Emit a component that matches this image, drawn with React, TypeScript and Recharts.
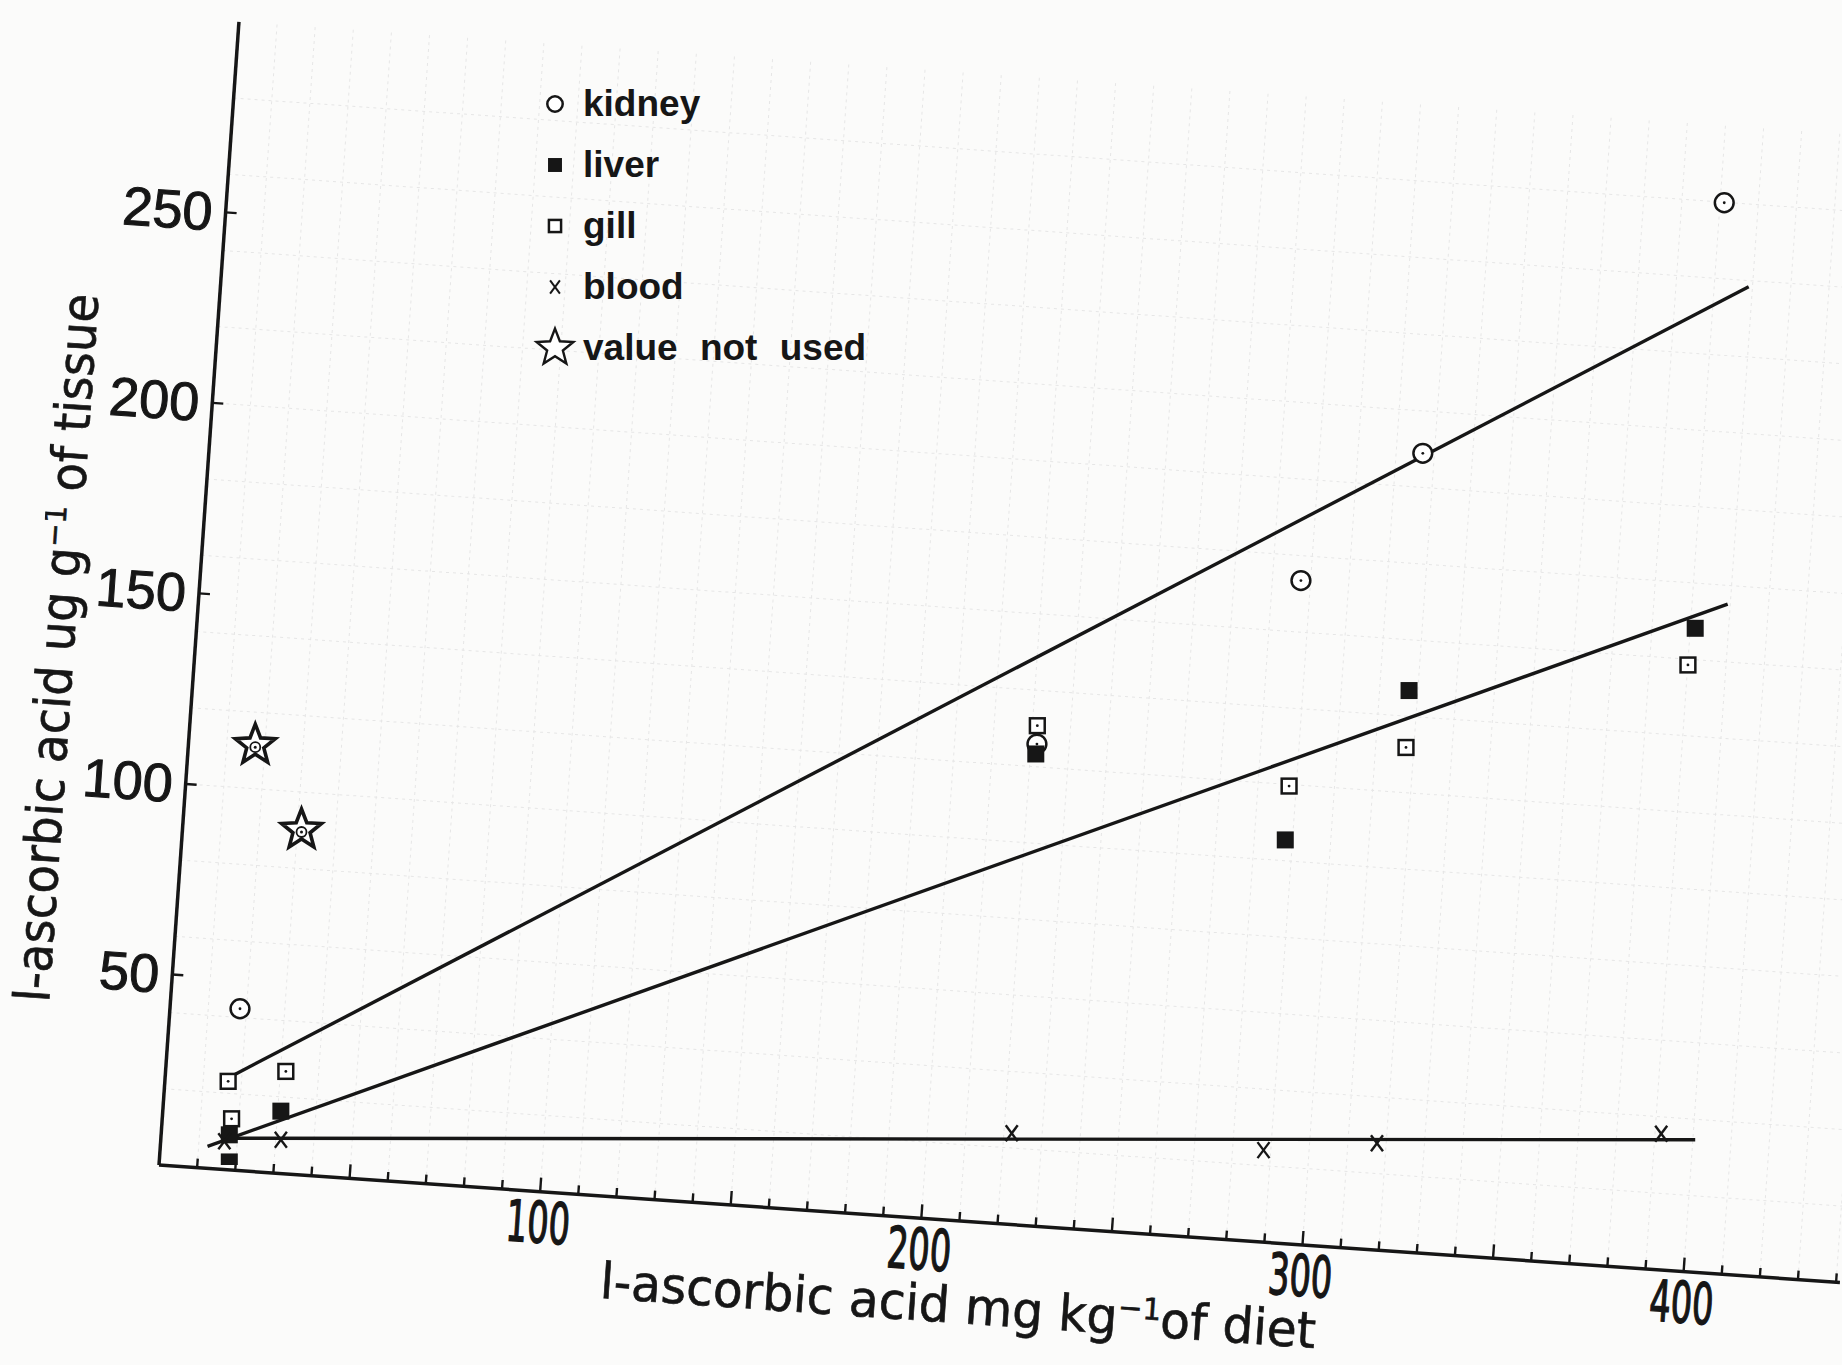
import { CartesianGrid, Label, Legend, Scatter, ScatterChart, XAxis, YAxis } from "recharts";

// values (diet mg/kg vs tissue ug/g)
const kidney = [
  { diet: 21.2, tissue: 40.9 },
  { diet: 229.8, tissue: 110.2 },
  { diet: 298.9, tissue: 153.0 },
  { diet: 330.8, tissue: 186.3 },
  { diet: 409.7, tissue: 251.9 },
];
const liver = [
  { diet: 18.4, tissue: 0.8 },
  { diet: 18.4, tissue: 7.9 },
  { diet: 31.9, tissue: 14.1 },
  { diet: 229.5, tissue: 107.6 },
  { diet: 294.8, tissue: 85.1 },
  { diet: 327.2, tissue: 124.2 },
  { diet: 402.1, tissue: 140.5 },
];
const gill = [
  { diet: 18.1, tissue: 21.9 },
  { diet: 19.0, tissue: 12.1 },
  { diet: 33.2, tissue: 24.5 },
  { diet: 229.9, tissue: 115.0 },
  { diet: 295.8, tissue: 99.2 },
  { diet: 326.4, tissue: 109.3 },
  { diet: 400.2, tissue: 130.9 },
];
const blood = [
  { diet: 17.1, tissue: 6.2 },
  { diet: 31.9, tissue: 6.6 },
  { diet: 223.2, tissue: 8.3 },
  { diet: 289.1, tissue: 3.9 },
  { diet: 318.8, tissue: 5.7 },
  { diet: 393.2, tissue: 8.2 },
];
const notUsed = [
  { diet: 25.2, tissue: 109.9 },
  { diet: 37.3, tissue: 87.7 },
];
const kidneyFit = [
  { diet: 18.1, tissue: 22.8 },
  { diet: 416.1, tissue: 229.9 },
];
const liverFit = [
  { diet: 12.7, tissue: 4.9 },
  { diet: 410.6, tissue: 146.8 },
];
const bloodFit = [
  { diet: 17.1, tissue: 7.0 },
  { diet: 402.1, tissue: 6.6 },
];

const xTicks = [
  10, 20, 30, 40, 50, 60, 70, 80, 90, 100, 110, 120, 130, 140, 150, 160, 170, 180, 190, 200, 210, 220,
  230, 240, 250, 260, 270, 280, 290, 300, 310, 320, 330, 340, 350, 360, 370, 380, 390, 400, 410, 420,
  430, 440,
];
const xTickLabels = [100, 200, 300, 400];
const yTicks = [50, 100, 150, 200, 250];
const gridY = [20, 40, 60, 80, 100, 120, 140, 160, 180, 200, 220, 240, 260, 280];

const legendItems = [
  { label: "kidney", kind: "circle" },
  { label: "liver", kind: "filled" },
  { label: "gill", kind: "square" },
  { label: "blood", kind: "cross" },
  { label: "value not used", kind: "star" },
];

const INK = "#161616";
const SANS = "'Liberation Sans', Arial, sans-serif";
const NARROW = "'Liberation Sans Narrow', 'DejaVu Sans Condensed', 'Liberation Sans', sans-serif";

function starPath(cx: number, cy: number, R: number, r: number) {
  let d = "";
  for (let i = 0; i < 10; i++) {
    const a = -Math.PI / 2 + (i * Math.PI) / 5;
    const rad = i % 2 === 0 ? R : r;
    d += (i === 0 ? "M" : "L") + (cx + rad * Math.cos(a)).toFixed(2) + "," + (cy + rad * Math.sin(a)).toFixed(2);
  }
  return d + "Z";
}

function marker(kind: string, cx: number, cy: number, s = 1) {
  const dot = s === 1;
  switch (kind) {
    case "circle":
      return (
        <g>
          <circle cx={cx} cy={cy} r={9.4 * s} fill="#fff" stroke={INK} strokeWidth={2.5} />
          {dot && <circle cx={cx} cy={cy} r={1.4} fill={INK} />}
        </g>
      );
    case "filled":
      return <rect x={cx - 8.5 * s} y={cy - 8.5 * s} width={17 * s} height={17 * s} fill={INK} />;
    case "square":
      return (
        <g>
          <rect x={cx - 7.4 * s} y={cy - 7.4 * s} width={14.8 * s} height={14.8 * s} fill="#fff" stroke={INK} strokeWidth={2.5} />
          {dot && <circle cx={cx} cy={cy} r={1.4} fill={INK} />}
        </g>
      );
    case "cross":
      return (
        <g stroke={INK} strokeWidth={2.4 * s} fill="none">
          <line x1={cx - 6 * s} y1={cy - 8 * s} x2={cx + 6 * s} y2={cy + 8 * s} />
          <line x1={cx + 6 * s} y1={cy - 8 * s} x2={cx - 6 * s} y2={cy + 8 * s} />
        </g>
      );
    case "star":
      return (
        <g>
          <path d={starPath(cx, cy, 21 * s, 9 * s)} fill="#fff" stroke={INK} strokeWidth={dot ? 3.6 : 2.4} strokeLinejoin="miter" />
          {dot && <circle cx={cx} cy={cy + 2} r={5} fill="none" stroke={INK} strokeWidth={1.8} />}
          {dot && <circle cx={cx} cy={cy + 2} r={1.5} fill={INK} />}
        </g>
      );
    default:
      return <g />;
  }
}

function XTick(props: any) {
  const { x, y, payload } = props;
  const v = payload.value as number;
  const len = v % 50 === 0 ? 14 : 9;
  return (
    <g>
      <line x1={x} x2={x} y1={y} y2={y - len} stroke={INK} strokeWidth={2.4} />
      {xTickLabels.includes(v) && (
        <text
          x={x}
          y={y + 31}
          textAnchor="middle"
          dominantBaseline="central"
          fontSize={57}
          fontFamily={NARROW}
          textLength={64}
          lengthAdjust="spacingAndGlyphs"
          fill={INK}
          stroke={INK}
          strokeWidth={1.4}
        >
          {v}
        </text>
      )}
    </g>
  );
}

function YTick(props: any) {
  const { x, y, payload } = props;
  return (
    <g>
      <line x1={x} x2={x + 11} y1={y} y2={y} stroke={INK} strokeWidth={2.4} />
      <text
        x={x - 13}
        y={y}
        textAnchor="end"
        dominantBaseline="central"
        fontSize={54}
        fontFamily={SANS}
        fill={INK}
        stroke={INK}
        strokeWidth={1}
      >
        {payload.value}
      </text>
    </g>
  );
}

function YTitle(props: any) {
  const vb = props.viewBox || { x: 79, y: 19, width: 80, height: 1146 };
  const x0 = vb.x + vb.width - 121;
  const yc = vb.y + vb.height - 509;
  return (
    <text
      transform={`rotate(-90, ${x0}, ${yc})`}
      x={x0}
      y={yc}
      textAnchor="middle"
      fontSize={50}
      fontFamily={NARROW}
      textLength={710}
      lengthAdjust="spacingAndGlyphs"
      fill={INK}
      stroke={INK}
      strokeWidth={0.6}
    >
      l-ascorbic acid  ug g<tspan dy={-17} fontSize={30}>−1</tspan><tspan dy={17}> of tissue</tspan>
    </text>
  );
}

function XTitle(props: any) {
  const vb = props.viewBox || { x: 159, y: 1165, width: 1684, height: 60 };
  return (
    <text
      x={vb.x + 807}
      y={vb.y + 102}
      textAnchor="middle"
      fontSize={50}
      fontFamily={NARROW}
      textLength={717}
      lengthAdjust="spacingAndGlyphs"
      fill={INK}
      stroke={INK}
      strokeWidth={0.6}
    >
      l-ascorbic acid  mg kg<tspan dy={-17} fontSize={30}>−1</tspan><tspan dy={17}>of diet</tspan>
    </text>
  );
}

function LegendBox() {
  return (
    <div style={{ fontFamily: SANS, fontWeight: 700, fontSize: 37, color: INK }}>
      {legendItems.map((it) => (
        <div key={it.label} style={{ display: "flex", alignItems: "center", height: 61 }}>
          <svg width={44} height={48} style={{ flex: "none" }}>
            {marker(it.kind, 22, 24, it.kind === "star" ? 0.92 : 0.82)}
          </svg>
          <span style={{ marginLeft: 6, wordSpacing: 12, whiteSpace: "nowrap" }}>{it.label}</span>
        </div>
      ))}
    </div>
  );
}

const noDot = () => <g />;

export default function App() {
  return (
    <div
      style={{
        position: "absolute",
        left: 0,
        top: 0,
        width: 1842,
        height: 1365,
        overflow: "hidden",
        background: "#fbfbfa",
      }}
    >
      {/* the axes were pasted on a few degrees askew of the plotted data */}
      <div style={{ position: "absolute", left: 0, top: 0, transform: "rotate(4deg)", transformOrigin: "159px 1165px" }}>
        <ScatterChart width={1900} height={1365} margin={{ top: 19, right: 56, bottom: 140, left: 79 }}>
          <CartesianGrid stroke="#e6e6e6" strokeDasharray="3 4" verticalValues={xTicks} horizontalValues={gridY} />
          <XAxis
            type="number"
            dataKey="diet"
            domain={[0, 441]}
            allowDataOverflow
            ticks={xTicks}
            interval={0}
            tickSize={0}
            tickMargin={0}
            tickLine={false}
            tick={XTick}
            height={60}
            axisLine={{ stroke: INK, strokeWidth: 3.5 }}
          >
            <Label content={XTitle} />
          </XAxis>
          <YAxis
            type="number"
            dataKey="tissue"
            domain={[0, 300]}
            allowDataOverflow
            ticks={yTicks}
            interval={0}
            tickSize={0}
            tickMargin={0}
            tickLine={false}
            tick={YTick}
            width={80}
            axisLine={{ stroke: INK, strokeWidth: 3.5 }}
          >
            <Label content={YTitle} />
          </YAxis>
          <Scatter data={[]} isAnimationActive={false} />
        </ScatterChart>
      </div>

      <div style={{ position: "absolute", left: 0, top: 0 }}>
        <ScatterChart width={1842} height={1365} margin={{ top: 19, right: 2, bottom: 200, left: 159 }}>
          <XAxis type="number" dataKey="diet" domain={[0, 440]} allowDataOverflow hide />
          <YAxis type="number" dataKey="tissue" domain={[0, 300]} allowDataOverflow hide />
          <Legend
            layout="vertical"
            align="center"
            verticalAlign="middle"
            content={LegendBox}
            wrapperStyle={{ left: 533, top: 73, width: 360 }}
          />
          <Scatter data={kidneyFit} fill={INK} line={{ stroke: INK, strokeWidth: 3.4 }} shape={noDot} isAnimationActive={false} legendType="none" />
          <Scatter data={liverFit} fill={INK} line={{ stroke: INK, strokeWidth: 3.4 }} shape={noDot} isAnimationActive={false} legendType="none" />
          <Scatter data={bloodFit} fill={INK} line={{ stroke: INK, strokeWidth: 3.4 }} shape={noDot} isAnimationActive={false} legendType="none" />
          <Scatter name="gill" data={gill} shape={(p: any) => marker("square", p.cx, p.cy)} isAnimationActive={false} />
          <Scatter name="kidney" data={kidney} shape={(p: any) => marker("circle", p.cx, p.cy)} isAnimationActive={false} />
          <Scatter name="liver" data={liver} shape={(p: any) => marker("filled", p.cx, p.cy)} isAnimationActive={false} />
          <Scatter name="blood" data={blood} shape={(p: any) => marker("cross", p.cx, p.cy)} isAnimationActive={false} />
          <Scatter name="value not used" data={notUsed} shape={(p: any) => marker("star", p.cx, p.cy)} isAnimationActive={false} />
        </ScatterChart>
      </div>
    </div>
  );
}
